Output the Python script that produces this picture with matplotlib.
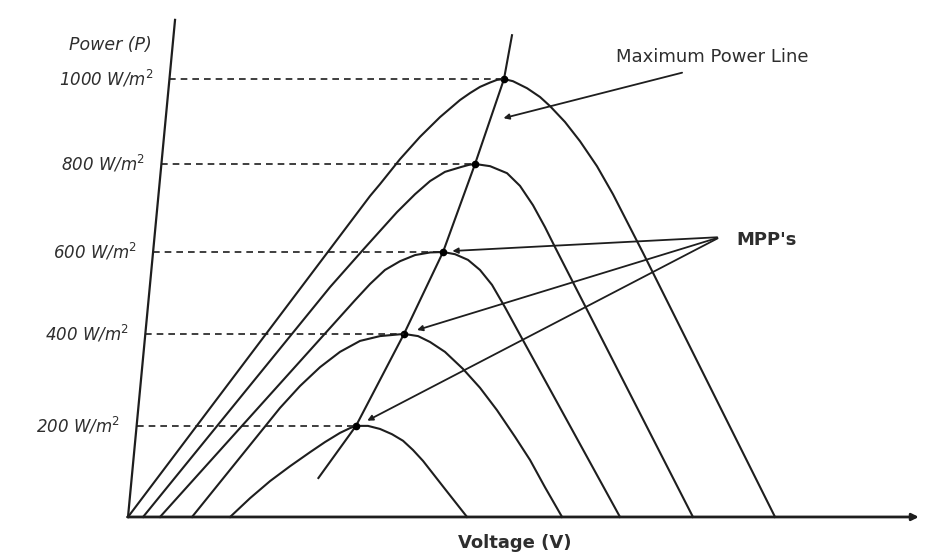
import numpy as np
from matplotlib import pyplot as plt

# irradiance levels (W/m2) and P-V curves
# voltage in V, power in W (arbitrary scale, 1000 W/m2 peak = 100)
levels = [1000, 800, 600, 400, 200]

v_1000 = [0, 15.13, 15.75, 17.0, 18.25, 19.5, 20.75, 21.38, 22.0, 22.63, 23.06, 23.5,
          24.06, 24.94, 25.75, 26.38, 27.31, 28.25, 29.31, 30.31, 32.19, 40.44]
p_1000 = [0, 73.3, 76.0, 81.7, 86.8, 91.3, 95.2, 96.8, 98.2, 99.2, 99.8, 100,
          99.5, 97.9, 95.9, 93.8, 90.2, 85.8, 80.1, 73.7, 60.3, 0]

v_800 = [0.94, 12.63, 14.69, 16.81, 17.94, 18.88, 19.81, 20.81, 21.31, 21.69,
         22.63, 23.69, 24.5, 25.31, 26.06, 26.69, 35.31]
p_800 = [0, 52.5, 61.0, 69.6, 73.7, 76.7, 78.8, 79.9, 80.4, 80.6,
         80.1, 78.5, 75.6, 71.2, 66.2, 61.6, 0]

v_600 = [2.0, 14.19, 15.13, 16.06, 17.0, 17.94, 18.88, 19.69,
         20.44, 21.25, 22.0, 22.75, 23.56, 24.5, 30.75]
p_600 = [0, 49.5, 53.2, 56.4, 58.4, 59.8, 60.4, 60.5,
         60.0, 58.7, 56.4, 53.0, 47.9, 41.6, 0]

v_400 = [4.0, 9.5, 10.75, 12.0, 13.25, 14.5, 15.75, 17.25,
         18.13, 18.88, 19.81, 20.94, 22.0, 23.06, 24.19, 25.13, 26.06, 27.13]
p_400 = [0, 24.9, 29.9, 34.2, 37.7, 40.2, 41.3, 41.8,
         41.3, 39.95, 37.7, 33.8, 29.5, 24.4, 18.3, 13.0, 6.8, 0]

v_200 = [6.38, 7.63, 8.88, 10.13, 11.38, 12.31, 13.25, 13.88, 14.25,
         15.0, 15.75, 16.5, 17.19, 17.81, 18.44, 19.81, 21.19]
p_200 = [0, 4.3, 8.2, 11.6, 14.8, 17.1, 19.2, 20.3, 20.8,
         20.8, 20.1, 18.9, 17.4, 15.3, 12.8, 6.4, 0]

# maximum power points
mpp_v = [23.5, 21.69, 19.69, 17.25, 14.25]
mpp_p = [100, 80.6, 60.5, 41.8, 20.8]

# maximum power line (through the MPPs, a bit past both ends)
mpl_v = [11.9, 14.25, 17.25, 19.69, 21.69, 23.5, 24.0]
mpl_p = [8.9, 20.8, 41.8, 60.5, 80.6, 100, 110.0]

curves = [(v_1000, p_1000), (v_800, p_800), (v_600, p_600),
          (v_400, p_400), (v_200, p_200)]

ink = '#1e1e1e'
txt = '#2e2e2e'

fig = plt.figure(figsize=(9.28, 5.55), dpi=100)
ax = fig.add_axes([0, 0, 1, 1])
ax.set_xlim(-8, 50)
ax.set_ylim(-8.68, 118.04)
ax.axis('off')

# axes drawn by hand (y axis leans a little like the sketch)
ytop_v, ytop_p = 2.94, 113.5
ax.plot([0, ytop_v], [0, ytop_p], color=ink, lw=1.6)
ax.annotate('', xy=(49.6, 0), xytext=(-0.2, 0),
            arrowprops=dict(arrowstyle='-|>', color=ink, lw=2.0,
                            mutation_scale=10))

for v, p in curves:
    ax.plot(v, p, color=ink, lw=1.5, solid_joinstyle='round')

ax.plot(mpl_v, mpl_p, color=ink, lw=1.5)
ax.plot(mpp_v, mpp_p, 'o', color='black', ms=4.5)

# dashed guides from y axis to each MPP + labels
for lev, v, p in zip(levels, mpp_v, mpp_p):
    x0 = ytop_v * p / ytop_p
    ax.plot([x0, v], [p, p], color=ink, lw=1.2, ls=(0, (4, 3)))
    ax.annotate('%d W/m$^2$' % lev, xy=(x0, p), xytext=(-12, 0),
                textcoords='offset points', ha='right', va='center',
                fontsize=12, style='italic', color=txt)

ax.text(-1.1, 107.8, 'Power (P)', ha='center', va='center',
        fontsize=12.5, style='italic', color=txt)
ax.text(24.2, -5.9, 'Voltage (V)', ha='center', va='center',
        fontsize=13, weight='semibold', color=txt)

# annotations
arr = dict(arrowstyle='-|>', color=ink, lw=1.3, mutation_scale=8)
ax.text(36.5, 105.0, 'Maximum Power Line', ha='center', va='center',
        fontsize=13, color=txt)
ax.annotate('', xy=(23.3, 90.9), xytext=(34.8, 101.6), arrowprops=arr)

ax.text(38.0, 63.2, "MPP's", ha='left', va='center',
        fontsize=13, weight='bold', color=txt)
for tv, tp in [(20.1, 60.7), (17.9, 42.5), (14.8, 21.7)]:
    ax.annotate('', xy=(tv, tp), xytext=(37.0, 63.9), arrowprops=arr)

plt.savefig('out.png', dpi=100)
